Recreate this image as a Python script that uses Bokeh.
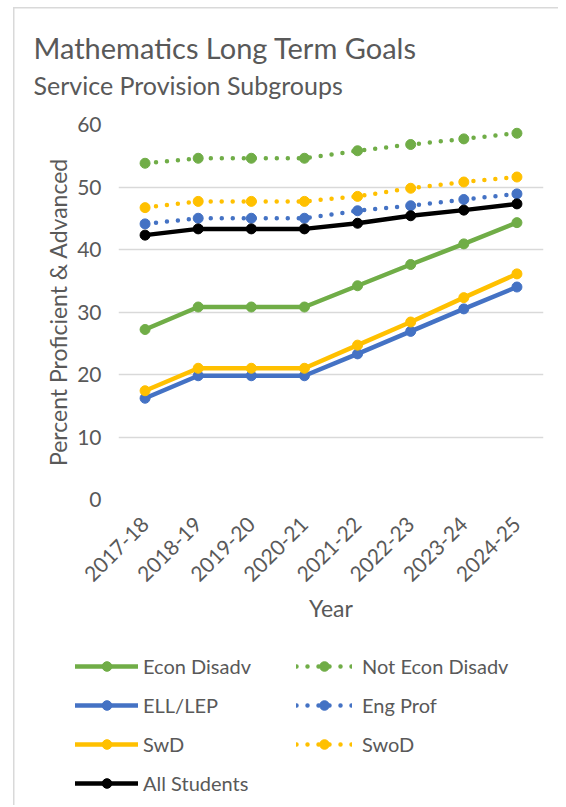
import math
from bokeh.plotting import figure
from bokeh.layouts import column
from bokeh.models import FactorRange, Range1d, FixedTicker, Legend, LegendItem, Title
from bokeh.embed import file_html
from bokeh.resources import INLINE

years = ["2017-18", "2018-19", "2019-20", "2020-21", "2021-22", "2022-23", "2023-24", "2024-25"]
econ_disadv = [27.2, 30.8, 30.8, 30.8, 34.2, 37.6, 40.9, 44.3]
not_econ_disadv = [53.8, 54.6, 54.6, 54.6, 55.8, 56.8, 57.7, 58.6]
ell_lep = [16.2, 19.8, 19.8, 19.8, 23.3, 26.9, 30.5, 34.0]
eng_prof = [44.1, 45.0, 45.0, 45.0, 46.2, 47.0, 48.0, 48.9]
swd = [17.4, 21.0, 21.0, 21.0, 24.7, 28.4, 32.3, 36.1]
swod = [46.7, 47.7, 47.7, 47.7, 48.5, 49.8, 50.8, 51.6]
all_students = [42.3, 43.3, 43.3, 43.3, 44.2, 45.4, 46.3, 47.3]
y_ticks = [0, 10, 20, 30, 40, 50, 60]

title_text = "Mathematics Long Term Goals"
subtitle_text = "Service Provision Subgroups"

GREEN = "#70AD47"
BLUE = "#4472C4"
YELLOW = "#FFC000"
BLACK = "#000000"
TXT = "#595959"
FONT = "Lato"

series = [
    ("Econ Disadv", econ_disadv, GREEN, "solid"),
    ("Not Econ Disadv", not_econ_disadv, GREEN, "dot"),
    ("ELL/LEP", ell_lep, BLUE, "solid"),
    ("Eng Prof", eng_prof, BLUE, "dot"),
    ("SwD", swd, YELLOW, "solid"),
    ("SwoD", swod, YELLOW, "dot"),
    ("All Students", all_students, BLACK, "solid"),
]


def add_series(fig, visible=True):
    out = {}
    for name, vals, color, style in series:
        if style == "solid":
            lr = fig.line(years, vals, line_color=color, line_width=4.5,
                          line_join="round", line_cap="round", visible=visible)
        else:
            lr = fig.line(years, vals, line_color=color, line_width=4.5,
                          line_dash="0 11", line_cap="round", visible=visible)
        sr = fig.scatter(years, vals, size=10, fill_color=color, line_color=color, visible=visible)
        out[name] = [lr, sr]
    return out


# ---------------- main chart ----------------
p = figure(
    width=558, height=648,
    x_range=FactorRange(*years), y_range=Range1d(0, 60),
    output_backend="svg", toolbar_location=None,
    min_border_left=118, min_border_right=15, min_border_top=124, min_border_bottom=149,
)
p.frame_align = False
p.outline_line_color = None
p.background_fill_color = "white"
p.border_fill_alpha = 0

p.xgrid.grid_line_color = None
p.ygrid.grid_line_color = "#D9D9D9"
p.ygrid.grid_line_width = 1.5
p.yaxis.ticker = FixedTicker(ticks=y_ticks)

for ax in (p.xaxis[0], p.yaxis[0]):
    ax.axis_line_color = None
    ax.major_tick_line_color = None
    ax.minor_tick_line_color = None
    ax.major_label_text_font = FONT
    ax.major_label_text_font_size = "21px"
    ax.major_label_text_color = TXT
    ax.axis_label_text_font = FONT
    ax.axis_label_text_font_size = "23px"
    ax.axis_label_text_color = TXT
    ax.axis_label_text_font_style = "normal"

p.yaxis.axis_label = "Percent Proficient & Advanced"
p.yaxis.major_label_standoff = 11
p.yaxis.axis_label_standoff = 2
p.xaxis.axis_label = "Year"
p.xaxis.major_label_orientation = math.pi / 4
p.xaxis.major_label_standoff = 15
p.xaxis.axis_label_standoff = 3

p.title.text = title_text
p.title.align = "left"
p.title.offset = -85
p.title.text_font = FONT
p.title.text_font_size = "29px"
p.title.text_font_style = "normal"
p.title.text_color = TXT
p.title.standoff = -44

sub_title = Title(text=subtitle_text, align="left", offset=-85, text_font=FONT,
                  text_font_size="25px", text_font_style="normal", text_color=TXT, standoff=50)
p.add_layout(sub_title, "above")

add_series(p)

# ---------------- legend panel ----------------
lp = figure(
    width=558, height=157,
    x_range=FactorRange(*years), y_range=Range1d(0, 60),
    output_backend="svg", toolbar_location=None,
    x_axis_location=None, y_axis_location=None,
    min_border_left=0, min_border_right=0, min_border_top=0, min_border_bottom=0,
)
lp.frame_align = False
lp.outline_line_color = None
lp.xgrid.visible = False
lp.ygrid.visible = False
lp.border_fill_alpha = 0
lp.background_fill_alpha = 0

leg_r = add_series(lp, visible=False)


def make_legend(names, loc, gw, standoff):
    return Legend(items=[LegendItem(label=n, renderers=leg_r[n]) for n in names],
                  location=loc, orientation="vertical",
                  glyph_width=gw, glyph_height=24, label_height=24, spacing=15,
                  label_standoff=standoff, padding=0, margin=0,
                  border_line_color=None, background_fill_alpha=0,
                  label_text_font=FONT, label_text_font_size="20px", label_text_color=TXT)


lp.add_layout(make_legend(["Econ Disadv", "ELL/LEP", "SwD", "All Students"], (75, 10), 63, 5), "center")
lp.add_layout(make_legend(["Not Econ Disadv", "Eng Prof", "SwoD"], (296, 49), 56, 10), "center")

layout = column(p, lp, spacing=0,
                styles={"box-shadow": "inset 13px 7px 0 0 #FFFFFF, inset 14.5px 8.5px 0 0 #D9D9D9",
                        "background-color": "#FFFFFF"})

open("out.html", "w").write(file_html(layout, INLINE))
